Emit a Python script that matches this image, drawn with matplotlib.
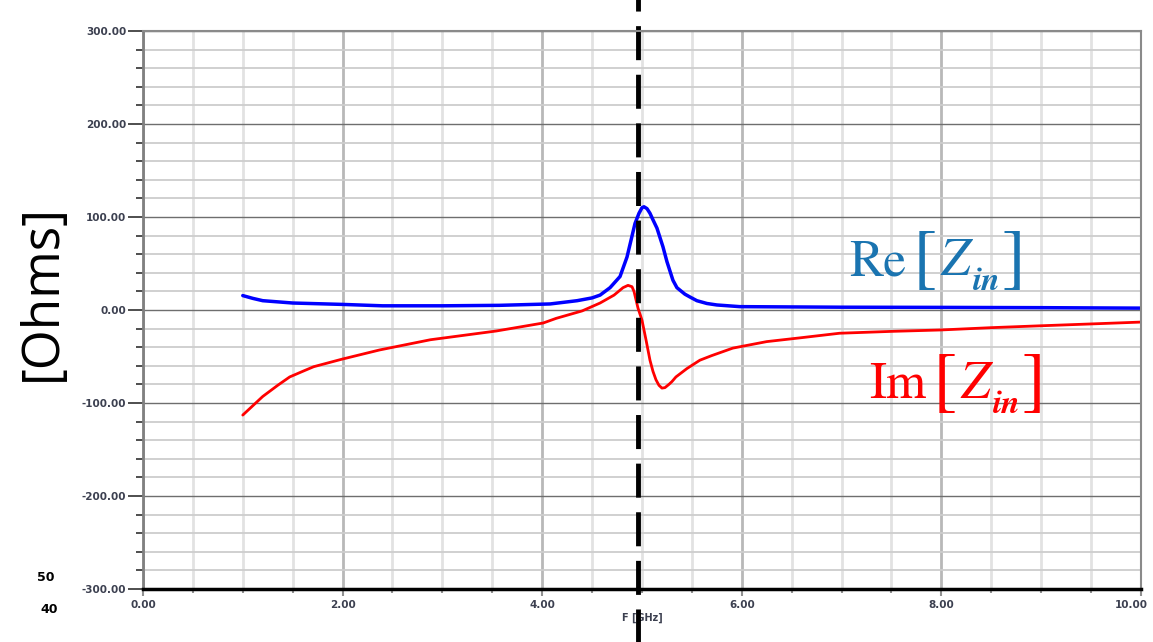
import numpy as np
import matplotlib
matplotlib.use("Agg")
import matplotlib.pyplot as plt
from matplotlib.ticker import MultipleLocator, FormatStrFormatter, FuncFormatter

# data
freq_re = [1.0, 1.1, 1.2, 1.5, 2.0, 2.4, 3.0, 3.57, 4.08, 4.35, 4.5, 4.58, 4.68, 4.78,
           4.85, 4.89, 4.93, 4.97, 5.0, 5.02, 5.05, 5.08, 5.11, 5.15, 5.21, 5.25, 5.31,
           5.35, 5.43, 5.48, 5.55, 5.65, 5.75, 5.98, 7.0, 8.0, 9.0, 10.0]
re_zin = [15.5, 12.5, 10.0, 7.5, 6.0, 4.5, 4.5, 5.0, 6.5, 10.0, 13.0, 16.0, 24.0, 36.0,
          57.0, 75.0, 93.0, 104.0, 110.0, 111.0, 109.0, 104.0, 97.0, 88.0, 68.0, 52.0,
          32.0, 24.0, 17.0, 14.0, 10.0, 7.0, 5.4, 3.6, 3.0, 2.8, 2.5, 2.0]

freq_im = [1.0, 1.1, 1.2, 1.35, 1.47, 1.6, 1.71, 1.85, 1.99, 2.37, 2.88, 3.54, 4.01, 4.14,
           4.4, 4.58, 4.72, 4.81, 4.86, 4.9, 4.92, 4.94, 4.96, 5.0, 5.04, 5.08, 5.11,
           5.14, 5.17, 5.2, 5.23, 5.27, 5.3, 5.34, 5.45, 5.58, 5.7, 5.91, 6.25, 6.58,
           6.98, 7.5, 7.99, 8.5, 8.99, 9.5, 10.0]
im_zin = [-113.0, -103.0, -93.0, -81.0, -72.0, -66.0, -61.0, -57.0, -53.0, -43.0, -32.0,
          -22.6, -14.0, -9.0, -1.0, 7.5, 16.0, 24.0, 26.5, 25.0, 20.0, 11.0, 2.0, -11.0,
          -32.0, -54.0, -66.0, -75.0, -81.0, -84.0, -83.5, -80.0, -77.0, -72.0, -63.0,
          -54.0, -49.0, -41.0, -34.0, -30.0, -25.0, -23.0, -21.5, -19.0, -17.0, -15.0,
          -13.0]

f_res = 4.96
x_max = 10.0

W, H = 1153, 642

def px(x, y):
    # pixel position (from top-left) -> figure fraction
    return x / W, 1 - y / H

fig = plt.figure(figsize=(W / 100, H / 100), dpi=100)
ax = fig.add_axes([0.124, 0.0826, 0.8656, 0.8691])

ax.set_xlim(0, x_max)
ax.set_ylim(-300, 300)

# grid like the simulator plot
ax.xaxis.set_major_locator(MultipleLocator(2))
ax.xaxis.set_minor_locator(MultipleLocator(0.5))
ax.yaxis.set_major_locator(MultipleLocator(100))
ax.yaxis.set_minor_locator(MultipleLocator(20))
# last x label is drawn separately, a little to the left like in the original
ax.xaxis.set_major_formatter(FuncFormatter(
    lambda v, pos: '' if v > x_max - 0.1 else '%.2f' % v))
ax.yaxis.set_major_formatter(FormatStrFormatter('%.2f'))

ax.grid(which='minor', axis='x', color='#e2e2e2', lw=2.0)
ax.grid(which='minor', axis='y', color='#cdcdcd', lw=1.3)
ax.grid(which='major', axis='x', color='#b8b8b8', lw=2.0)
ax.grid(which='major', axis='y', color='#6e6e6e', lw=1.0)
ax.set_axisbelow(True)

for side in ['top', 'right']:
    ax.spines[side].set_color('#8a8a8a')
    ax.spines[side].set_linewidth(1.5)
ax.spines['left'].set_color('#808080')
ax.spines['left'].set_linewidth(2.0)
ax.spines['bottom'].set_color('black')
ax.spines['bottom'].set_linewidth(2.5)

ax.tick_params(axis='y', which='major', length=11, width=1.2, color='#303030',
               labelsize=7.5, labelcolor='#3c4050', pad=1)
ax.tick_params(axis='y', which='minor', length=5, width=1.2, color='#303030')
ax.tick_params(axis='x', which='major', length=5, width=1.5, color='#909090',
               labelsize=7.5, labelcolor='#3c4050', pad=3)
ax.tick_params(axis='x', which='minor', length=3, width=1.5, color='#909090')
for lab in ax.get_xticklabels() + ax.get_yticklabels():
    lab.set_fontweight('bold')

ax.annotate('%.2f' % x_max, xy=(x_max, 0), xycoords=ax.get_xaxis_transform(),
            xytext=(-10, -11), textcoords='offset pixels', ha='center', va='top',
            fontsize=7.5, fontweight='bold', color='#3c4050', annotation_clip=False)

ax.plot(freq_re, re_zin, color='#0000ff', lw=2.5, solid_capstyle='round',
        solid_joinstyle='round')
ax.plot(freq_im, im_zin, color='#ff0000', lw=2.0, solid_capstyle='round',
        solid_joinstyle='round')

ax.axvline(f_res, ymin=-0.1, ymax=1.06, color='black', lw=3.5,
           dashes=(7, 3), clip_on=False)

ax.set_xlabel('F [GHz]', fontsize=7, fontweight='bold', color='#3c4050', labelpad=2)

# Re[Z_in] and Im[Z_in] labels, built piece by piece so the brackets are tall
def zin_label(name, x0, base, color):
    serif = 'STIXGeneral'
    fig.text(*px(x0, base), name, fontsize=37, family=serif, color=color, va='baseline')
    fig.text(*px(x0 + 64, base - 13), '[', fontsize=52, family=serif, color=color,
             va='center')
    fig.text(*px(x0 + 91, base), 'Z', fontsize=38, family=serif, style='italic',
             color=color, va='baseline')
    fig.text(*px(x0 + 124, base + 15), 'in', fontsize=24, family=serif, style='italic',
             weight='bold', color=color, va='baseline')
    fig.text(*px(x0 + 153, base - 13), ']', fontsize=52, family=serif, color=color,
             va='center')

zin_label('Re', 849, 275, '#1a74b0')
zin_label('Im', 869, 398, '#ff0000')

fig.text(0.037, 0.545, '[Ohms]', rotation=90, fontsize=37, family='Open Sans',
         ha='center', va='center', color='black')

# leftover bits of a smith chart in the corner
fig.text(0.032, 0.095, '50', fontsize=9, fontweight='bold')
fig.text(0.035, 0.045, '40', fontsize=9, fontweight='bold')

fig.savefig('out.png', dpi=100)
